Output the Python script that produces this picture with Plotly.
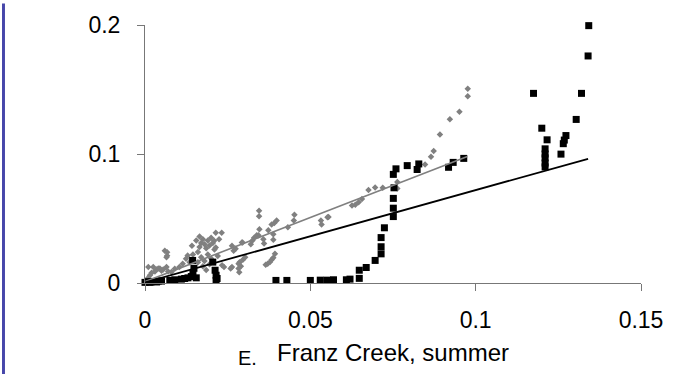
import plotly.graph_objects as go

# ---- data ----
gray_x = [0.0005, 0.001, 0.0015, 0.002, 0.0025, 0.003, 0.001, 0.0035, 0.004, 0.0045, 0.005, 0.0055,
          0.0065, 0.0067, 0.0067, 0.007, 0.008, 0.009, 0.0104, 0.0114, 0.0124, 0.0129, 0.0142, 0.0135,
          0.0145, 0.006, 0.0065,
          0.016, 0.0165, 0.017, 0.0175, 0.018, 0.0185, 0.019, 0.0195, 0.020, 0.0205, 0.021, 0.0214,
          0.0209, 0.0224, 0.0214, 0.0232, 0.017, 0.018, 0.019, 0.0175, 0.0185, 0.016, 0.02, 0.0195,
          0.022, 0.0155, 0.0165,
          0.0239, 0.0259, 0.0263, 0.0283, 0.0283, 0.0263, 0.0268, 0.0293, 0.0286, 0.029, 0.0296,
          0.0303, 0.0295, 0.0285, 0.0233, 0.0274,
          0.032, 0.0325, 0.033, 0.0338, 0.0343, 0.0346, 0.0345, 0.0345, 0.0358, 0.036, 0.0373, 0.0383,
          0.0391, 0.0398, 0.0388, 0.0388, 0.0432, 0.0452, 0.045, 0.0532, 0.0534, 0.0552, 0.0555,
          0.0393, 0.0388, 0.0383, 0.0378, 0.0371, 0.0365,
          0.0626, 0.0636, 0.0646, 0.0656, 0.0676, 0.0696, 0.0719, 0.0763, 0.0763, 0.0847, 0.0865,
          0.0873, 0.0892, 0.0922, 0.0951, 0.0976, 0.0976]
gray_y = [0.002, 0.004, 0.006, 0.008, 0.0124, 0.009, 0.0124, 0.0105, 0.0112, 0.0112, 0.0095, 0.0105,
          0.0124, 0.0212, 0.0238, 0.009, 0.0085, 0.011, 0.0124, 0.015, 0.0188, 0.0213, 0.0289, 0.016,
          0.022, 0.025, 0.02,
          0.024, 0.028, 0.031, 0.034, 0.030, 0.027, 0.033, 0.029, 0.035, 0.031, 0.026, 0.0276,
          0.0327, 0.034, 0.039, 0.039, 0.02, 0.017, 0.022, 0.013, 0.01, 0.016, 0.019, 0.0145,
          0.021, 0.033, 0.036,
          0.0124, 0.0112, 0.0124, 0.015, 0.0112, 0.0289, 0.025, 0.0314, 0.016, 0.013, 0.018,
          0.020, 0.0314, 0.0084, 0.0137, 0.0266,
          0.030, 0.033, 0.035, 0.037, 0.037, 0.0416, 0.0517, 0.056, 0.034, 0.0307, 0.0408, 0.0454,
          0.0466, 0.0484, 0.0378, 0.0335, 0.0433, 0.053, 0.0484, 0.0484, 0.0454, 0.051, 0.0512,
          0.0226, 0.0196, 0.018, 0.0162, 0.015, 0.0142,
          0.06, 0.0606, 0.0626, 0.0652, 0.072, 0.074, 0.0738, 0.0732, 0.0783, 0.0918, 0.0979,
          0.1024, 0.1151, 0.127, 0.1328, 0.1447, 0.1506]

black_x = [0.0, 0.001, 0.002, 0.003, 0.004, 0.005, 0.0015, 0.0035,
           0.0075, 0.009, 0.011, 0.012, 0.013, 0.014, 0.0145, 0.0148, 0.0144, 0.0155,
           0.0205, 0.0212, 0.0215, 0.0218, 0.0215,
           0.0396, 0.0429, 0.050, 0.053, 0.055, 0.057, 0.0609, 0.062, 0.0648, 0.0648, 0.0669,
           0.0696, 0.0714, 0.0714, 0.0714, 0.0724, 0.0751, 0.0751, 0.0751, 0.0753, 0.0751, 0.0759,
           0.0793, 0.0823, 0.0828, 0.0918, 0.0932, 0.0964,
           0.1175, 0.120, 0.1216, 0.121, 0.121, 0.121, 0.121, 0.121, 0.1258, 0.1265, 0.1268,
           0.1273, 0.1304, 0.132, 0.134, 0.1342]
black_y = [0.0005, 0.001, 0.001, 0.0012, 0.0015, 0.0015, 0.0005, 0.0008,
           0.002, 0.0025, 0.003, 0.0035, 0.004, 0.005, 0.0075, 0.0114, 0.0175, 0.004,
           0.0162, 0.0099, 0.006, 0.0035, 0.002,
           0.002, 0.002, 0.002, 0.0022, 0.0022, 0.0025, 0.0025, 0.003, 0.0036, 0.0099, 0.012,
           0.0175, 0.0226, 0.0281, 0.0352, 0.0428, 0.0515, 0.058, 0.0656, 0.0738, 0.0842, 0.0885,
           0.091, 0.088, 0.0923, 0.0897, 0.0935, 0.0966,
           0.147, 0.120, 0.111, 0.104, 0.100, 0.097, 0.093, 0.090, 0.0999, 0.108, 0.1108,
           0.1143, 0.1268, 0.147, 0.176, 0.1995]

# trend lines (endpoints)
gray_fit_x = [0.0, 0.0975]
gray_fit_y = [0.001, 0.098]
black_fit_x = [0.0, 0.134]
black_fit_y = [0.0005, 0.0963]

x_ticks = [0, 0.05, 0.1, 0.15]
x_ticktext = ["0", "0.05", "0.1", "0.15"]
y_ticks = [0, 0.1, 0.2]
y_ticktext = ["0", "0.1", "0.2"]

title_text = "Franz Creek, summer"
panel_text = "E."

FONT = "Liberation Sans, Arial, sans-serif"
AXC = "#777777"

fig = go.Figure()
fig.add_trace(go.Scatter(x=gray_x, y=gray_y, mode="markers", cliponaxis=False,
                         marker=dict(symbol="diamond", size=5, color="#808080"),
                         showlegend=False))
fig.add_trace(go.Scatter(x=black_x, y=black_y, mode="markers", cliponaxis=False,
                         marker=dict(symbol="square", size=7, color="#000000"),
                         showlegend=False))
fig.add_trace(go.Scatter(x=gray_fit_x, y=gray_fit_y, mode="lines",
                         line=dict(color="#808080", width=1.6), showlegend=False))
fig.add_trace(go.Scatter(x=black_fit_x, y=black_fit_y, mode="lines",
                         line=dict(color="#000000", width=1.8), showlegend=False))

L, R, T, B = 145, 27, 20, 91
W, H = 675, 374
pw, ph = W - L - R, H - T - B

fig.update_layout(
    width=W, height=H,
    margin=dict(l=L, r=R, t=T, b=B, pad=0),
    paper_bgcolor="white", plot_bgcolor="white",
    font=dict(family=FONT, size=23, color="#000000"),
    xaxis=dict(range=[0, 0.15], tickvals=x_ticks, ticktext=x_ticktext,
               showgrid=False, zeroline=False, showline=True, linecolor=AXC, linewidth=1,
               ticks="outside", ticklen=7, tickcolor=AXC, tickwidth=1,
               ticklabelstandoff=9),
    yaxis=dict(range=[0, 0.2], tickvals=y_ticks, ticktext=y_ticktext,
               showgrid=False, zeroline=False, showline=True, linecolor=AXC, linewidth=1,
               ticks="outside", ticklen=7, tickcolor=AXC, tickwidth=1,
               ticklabelstandoff=12),
    annotations=[
        dict(text=title_text, xref="paper", yref="paper", x=0.5, y=(T + ph - 353.6) / ph,
             xanchor="center", yanchor="middle", showarrow=False,
             font=dict(family=FONT, size=24, color="#000000")),
        dict(text=panel_text, xref="paper", yref="paper", x=(249 - L) / pw, y=(T + ph - 359) / ph,
             xanchor="center", yanchor="middle", showarrow=False,
             font=dict(family=FONT, size=20, color="#000000")),
    ],
    shapes=[
        dict(type="rect", xref="paper", yref="paper",
             x0=(0 - L) / pw, x1=(3 - L) / pw, y0=-(B + 2) / ph, y1=1 + (T + 2) / ph,
             fillcolor="#4646AA", line=dict(width=0), layer="above"),
    ],
)

fig.write_html("out.html")
